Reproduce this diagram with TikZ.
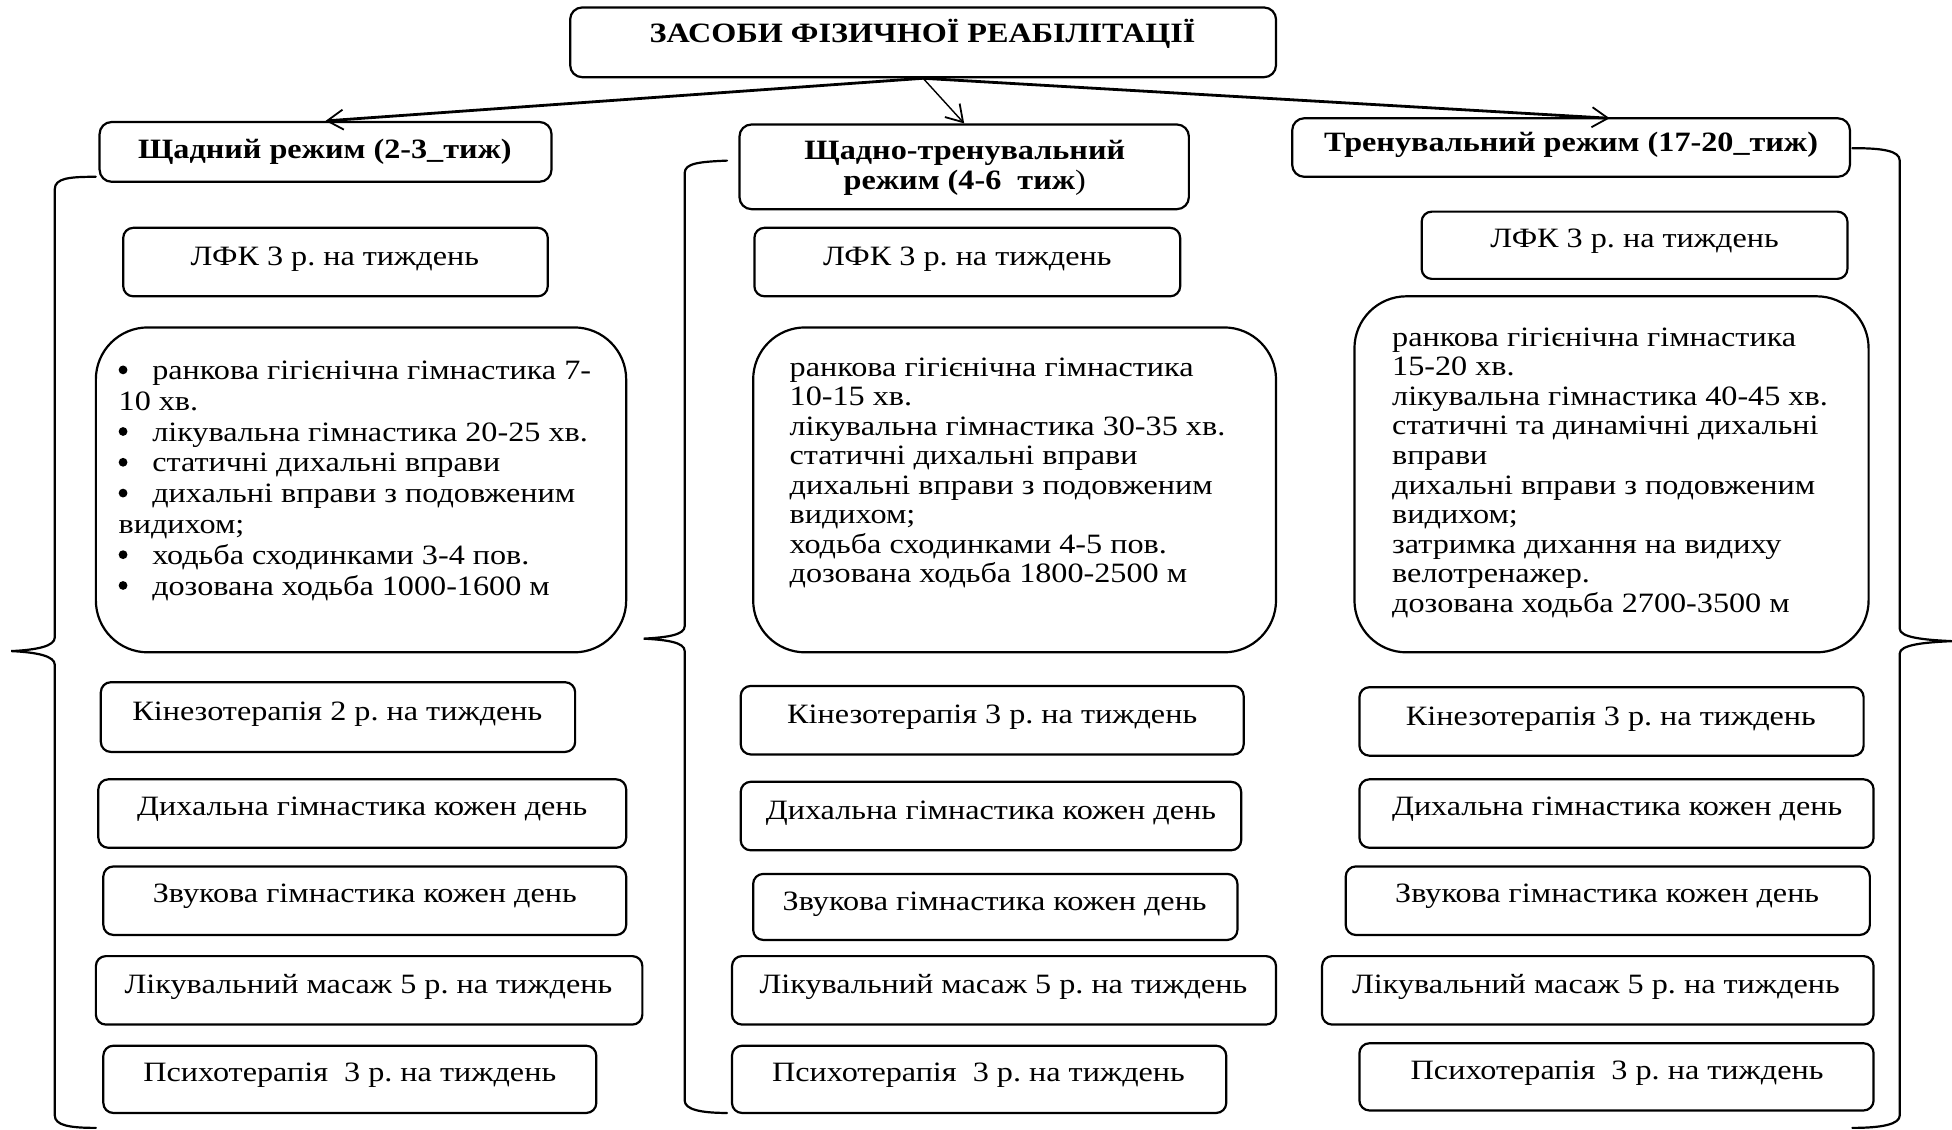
\documentclass[tikz,border=0pt]{standalone}
\usepackage{fontspec}
\setmainfont{Liberation Serif}[FakeStretch=1.15]
\usetikzlibrary{fit,arrows.meta}
\frenchspacing
% list marker: a filled dot, then the item text
\newcommand\itembul{\makebox[16.8pt][l]{\tikz[baseline=0pt]\fill (2.3pt,4.8pt) circle[radius=2.2pt];}}
% a rounded box given by two corners, with its label set on a baseline point
\newcommand\cell[8]{%
  \node[box, fit={(#2,#3) (#4,#5)}] (#1) {};
  \node[lbl] (#1t) at (#6,#7) {#8};}
\begin{document}
\begin{tikzpicture}[x=0.6225pt,y=-0.6225pt,
  box/.style={draw, line width=1.1pt, rounded corners=5pt, inner sep=0pt},
  headbox/.style={box, rounded corners=6pt},
  bigbox/.style={box, rounded corners=26pt},
  lbl/.style={font=\fontsize{14pt}{15pt}\selectfont, inner sep=0pt, anchor=base},
  hlbl/.style={lbl, font=\fontsize{14pt}{15pt}\selectfont\bfseries},
  % multi-line texts are placed by the baseline of their last line
  listtxt/.style={inner sep=0pt, anchor=base west, align=left},
  brace/.style={line width=1.1pt, line cap=round},
  feed/.style={line width=1.4pt, -{Straight Barb[length=8pt,width=10pt,line width=0.9pt]}},
]
\fill[white] (0,0) rectangle (1568,907);
\useasboundingbox (0,0) rectangle (1568,907);

% title and the three regimes
\node[headbox, fit={(458,6) (1025,62)}] (T) {};
\node[hlbl] (Tt) at (741,34) {ЗАСОБИ ФІЗИЧНОЇ РЕАБІЛІТАЦІЇ};

\node[headbox, fit={(80,98) (443,146)}] (h1) {};
\node[hlbl] (h1t) at (261,127) {Щадний режим (2-3\_тиж)};
\node[headbox, fit={(594,100) (955,168)}] (h2) {};
\node[hlbl, align=center] (h2t) at (775,152) {Щадно-тренувальний\\режим (4-6\ \ тиж\textmd{)}};
\node[headbox, fit={(1038,95) (1486,142)}] (h3) {};
\node[hlbl] (h3t) at (1262,122) {Тренувальний режим (17-20\_тиж)};
\coordinate (h3in) at (1293,95);

\draw[feed] (T.south) -- (h1.north);
\draw[feed, line width=0.7pt] (T.south) -- (h2.north);
\draw[feed] (T.south) -- (h3in);

% first column
\cell{a1}{99}{183}{440}{238}{269}{213}{ЛФК 3 р. на тиждень}
\node[bigbox, fit={(77,263) (503,524)}] (a2) {};
\node[listtxt, font=\fontsize{14pt}{15.4pt}\selectfont] (a2t) at (95,478) {%
\itembul ранкова гігієнічна гімнастика 7-\\
10 хв.\\
\itembul лікувальна гімнастика 20-25 хв.\\
\itembul статичні дихальні вправи\\
\itembul дихальні вправи з подовженим\\
видихом;\\
\itembul ходьба сходинками 3-4 пов.\\
\itembul дозована ходьба 1000-1600 м};
\cell{a3}{81}{548}{462}{604}{271}{579}{Кінезотерапія 2 р. на тиждень}
\cell{a4}{79}{626}{503}{681}{291}{655}{Дихальна гімнастика кожен день}
\cell{a5}{83}{696}{503}{751}{293}{725}{Звукова гімнастика кожен день}
\cell{a6}{77}{768}{516}{823}{296}{798}{Лікувальний масаж 5 р. на тиждень}
\cell{a7}{83}{840}{479}{894}{281}{869}{Психотерапія\ \ 3 р. на тиждень}

% second column
\cell{b1}{606}{183}{948}{238}{777}{213}{ЛФК 3 р. на тиждень}
\node[bigbox, fit={(605,263) (1025,524)}] (b2) {};
\node[listtxt, font=\fontsize{14pt}{14.75pt}\selectfont] (b2t) at (634,468) {%
ранкова гігієнічна гімнастика\\
10-15 хв.\\
лікувальна гімнастика 30-35 хв.\\
статичні дихальні вправи\\
дихальні вправи з подовженим\\
видихом;\\
ходьба сходинками 4-5 пов.\\
дозована ходьба 1800-2500 м};
\cell{b3}{595}{551}{999}{606}{797}{581}{Кінезотерапія 3 р. на тиждень}
\cell{b4}{595}{628}{997}{683}{796}{658}{Дихальна гімнастика кожен день}
\cell{b5}{605}{702}{994}{755}{799}{731}{Звукова гімнастика кожен день}
\cell{b6}{588}{768}{1025}{823}{806}{798}{Лікувальний масаж 5 р. на тиждень}
\cell{b7}{588}{840}{985}{894}{786}{869}{Психотерапія\ \ 3 р. на тиждень}

% third column
\cell{c1}{1142}{170}{1484}{224}{1313}{199}{ЛФК 3 р. на тиждень}
\node[bigbox, fit={(1088,238) (1501,524)}] (c2) {};
\node[listtxt, font=\fontsize{14pt}{14.8pt}\selectfont] (c2t) at (1118,492) {%
ранкова гігієнічна гімнастика\\
15-20 хв.\\
лікувальна гімнастика 40-45 хв.\\
статичні та динамічні дихальні\\
вправи\\
дихальні вправи з подовженим\\
видихом;\\
затримка дихання на видиху\\
велотренажер.\\
дозована ходьба 2700-3500 м};
\cell{c3}{1092}{552}{1497}{607}{1294}{583}{Кінезотерапія 3 р. на тиждень}
\cell{c4}{1092}{626}{1505}{681}{1299}{655}{Дихальна гімнастика кожен день}
\cell{c5}{1081}{696}{1502}{751}{1291}{725}{Звукова гімнастика кожен день}
\cell{c6}{1062}{768}{1505}{823}{1282}{798}{Лікувальний масаж 5 р. на тиждень}
\cell{c7}{1092}{838}{1505}{892}{1299}{867}{Психотерапія\ \ 3 р. на тиждень}

% curly braces grouping each column
\draw[brace] (77,142) .. controls (56,142) and (44,143) .. (44,152) -- (44,512)
  .. controls (44,519) and (30,522) .. (9,523)
  .. controls (30,524) and (44,527) .. (44,534) -- (44,896)
  .. controls (44,904) and (56,906) .. (77,906);
\draw[brace] (584,129) .. controls (562,130) and (550,131) .. (550,139) -- (550,503)
  .. controls (550,510) and (536,512) .. (517,513)
  .. controls (536,514) and (550,516) .. (550,523) -- (550,884)
  .. controls (550,891) and (562,894) .. (584,894);
\draw[brace] (1488,119) .. controls (1512,119) and (1526,121) .. (1526,129) -- (1526,505)
  .. controls (1526,512) and (1545,514) .. (1568,515)
  .. controls (1545,516) and (1526,518) .. (1526,525) -- (1526,896)
  .. controls (1526,903) and (1512,906) .. (1488,906);
\end{tikzpicture}
\end{document}
